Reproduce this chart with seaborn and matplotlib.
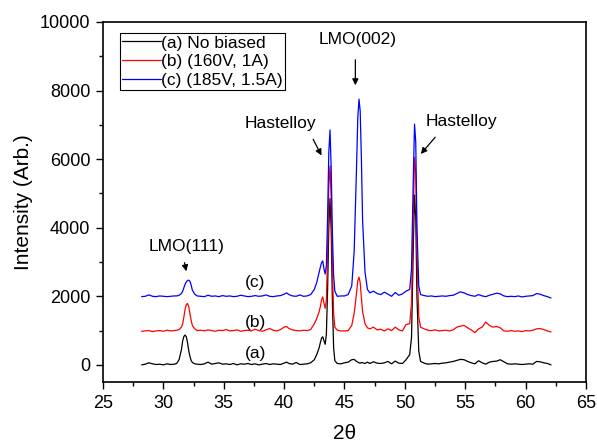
import matplotlib
matplotlib.use("Agg")
import matplotlib.pyplot as plt
import seaborn as sns
import pandas as pd
from matplotlib.ticker import MultipleLocator

# ---------------- data ----------------
two_theta = [
    28.2, 28.5, 28.8, 29.1, 29.4, 29.7, 30.0, 30.3, 30.6, 30.9,
    31.1, 31.3, 31.5, 31.6, 31.7, 31.8, 31.9, 32.0, 32.1, 32.2, 32.3, 32.4, 32.6, 32.8,
    33.1, 33.4, 33.7, 34.0, 34.3, 34.6, 34.9, 35.2, 35.5, 35.8, 36.1, 36.4, 36.7, 37.0,
    37.3, 37.6, 37.9, 38.2, 38.5, 38.8, 39.1, 39.4, 39.7, 40.0, 40.2, 40.4, 40.7, 41.0,
    41.3, 41.6, 41.9, 42.2, 42.5,
    42.7, 42.9, 43.0, 43.1, 43.2, 43.3, 43.4, 43.5, 43.6, 43.7, 43.8, 43.9, 44.0, 44.1,
    44.2, 44.4, 44.7,
    45.0, 45.3, 45.6, 45.8, 46.0, 46.1, 46.2, 46.3, 46.4, 46.5, 46.7, 46.9, 47.1,
    47.4, 47.7, 48.0, 48.3, 48.6, 48.9, 49.2, 49.5, 49.8, 50.1, 50.4,
    50.55, 50.7, 50.8, 50.9, 51.0, 51.15, 51.3,
    51.6, 51.9, 52.2, 52.5, 52.8, 53.1, 53.4, 53.7, 54.0, 54.3, 54.6, 54.9, 55.2, 55.5,
    55.8, 56.1, 56.4, 56.7, 57.0, 57.3, 57.6, 57.9, 58.2, 58.5, 58.8, 59.1, 59.4, 59.7,
    60.0, 60.3, 60.6, 60.9, 61.2, 61.5, 61.8, 62.1,
]

intensity_a = [
    0, 20, 60, 30, 10, 20, 0, 30, 10, 20,
    40, 150, 450, 700, 830, 870, 820, 650, 420, 250, 130, 70, 30, 20,
    10, 30, 80, 20, 40, 60, 20, 30, 10, 40, 0, 30, 20, 40,
    10, 30, 0, 20, 40, 10, 30, 20, 10, 50, 80, 40, 20, 70,
    10, 20, 30, 60, 150,
    300, 500, 650, 780, 820, 700, 600, 900, 2200, 4000, 4850, 3900, 1800, 500,
    120, 40, 30,
    60, 80, 150, 160, 100, 80, 60, 50, 70, 60, 40, 80, 40,
    90, 50, 40, 60, 100, 30, 110, 50, 40, 150, 300,
    800, 3500, 4950, 4300, 2000, 400, 100,
    50, 20, 30, 40, 30, 50, 60, 80, 100, 130, 160, 150, 100, 60,
    30, 120, 60, 20, 80, 100, 110, 150, 90, 30, 20, 30, 20, 10,
    20, 30, 20, 100, 90, 60, 40, 0,
]

intensity_b = [
    980, 990, 1000, 970, 990, 1000, 980, 1010, 990, 1000,
    1010, 1030, 1100, 1200, 1400, 1620, 1760, 1790, 1700, 1500, 1300, 1150, 1050, 1000,
    1010, 990, 1020, 1000, 980, 1010, 1000, 1030, 990, 1000, 1020, 980, 1000, 1010,
    990, 1040, 1000, 980, 1020, 1060, 1010, 990, 1030, 1100, 1120, 1060, 1020, 1000,
    990, 1010, 1000, 1030, 1200,
    1350, 1550, 1700, 1900, 1980, 1800, 1650, 1900, 3200, 5200, 5800, 4800, 2800, 1500,
    1100, 1010, 990,
    990, 1000, 1150, 1500, 2100, 2450, 2560, 2400, 1950, 1550, 1200, 1080, 1050,
    1100, 1020, 1040, 990, 1050, 1000, 1100, 1020, 990, 1180, 1200,
    1800, 4500, 6050, 5600, 3200, 1400, 1100,
    1050, 1010, 1000, 1020, 990, 1000, 1010, 990, 1020, 1100, 1130, 1150, 1080, 1020,
    940, 1050, 1100, 1250, 1150, 1100, 1120, 1080, 990, 980, 1000, 980, 990, 970,
    1000, 990, 1010, 1050, 1060, 1030, 990, 960,
]

intensity_c = [
    1990, 2000, 2040, 2000, 1990, 2010, 2000, 1990, 2000, 2010,
    2010, 2030, 2080, 2150, 2250, 2350, 2420, 2460, 2470, 2440, 2330, 2180, 2060, 2010,
    2000, 1990, 2030, 2000, 2010, 1990, 2020, 2000, 2010, 1990, 2000, 2030, 2010, 1990,
    2000, 2020, 2000, 2010, 2040, 2000, 1990, 2010, 2020, 2060, 2100, 2050, 2010, 2000,
    2040, 2000, 2010, 2050, 2200,
    2400, 2700, 2850, 2980, 3030, 2800, 2650, 2900, 4300, 6200, 6850, 5700, 3800, 2600,
    2150, 2000, 2010,
    2010, 2050, 2300, 3300, 5800, 7200, 7750, 7400, 6000, 4200, 2700, 2200, 2100,
    2150, 2080, 2050, 2120, 2060, 2000, 2110, 2030, 2070, 2150, 2200,
    2800, 5500, 7020, 6500, 4000, 2300, 2050,
    2020, 2000, 2010, 1990, 2000, 2010, 2000, 2020, 2030, 2080, 2130, 2100, 2050, 2020,
    2000, 2050, 2010, 1990, 2030, 2060, 2090, 2070, 2010, 1990, 2000, 1990, 2010, 1980,
    2000, 2010, 2020, 2080, 2060, 2020, 1990, 1950,
]

series_labels = ["(a) No biased", "(b) (160V, 1A)", "(c) (185V, 1.5A)"]
series_colors = ["black", "red", "blue"]

x_ticks = [25, 30, 35, 40, 45, 50, 55, 60, 65]
y_ticks = [0, 2000, 4000, 6000, 8000, 10000]

# ---------------- build table ----------------
frames = []
for lab, vals in zip(series_labels, [intensity_a, intensity_b, intensity_c]):
    frames.append(pd.DataFrame({"two_theta": two_theta, "intensity": vals, "sample": lab}))
df = pd.concat(frames, ignore_index=True)

# ---------------- style ----------------
sns.set_style("ticks")
plt.rcParams["font.family"] = ["Liberation Sans", "DejaVu Sans"]
plt.rcParams["text.color"] = "black"
plt.rcParams["axes.labelcolor"] = "black"
plt.rcParams["xtick.color"] = "black"
plt.rcParams["ytick.color"] = "black"
plt.rcParams["axes.edgecolor"] = "black"

fig = plt.figure(figsize=(5.97, 4.47), dpi=100)
ax = fig.add_axes([0.1725, 0.1454, 0.8091, 0.8054])

sns.lineplot(data=df, x="two_theta", y="intensity", hue="sample",
             hue_order=series_labels, palette=series_colors,
             sort=False, estimator=None, linewidth=0.9, ax=ax)

ax.set_xlim(25, 65)
ax.set_ylim(-500, 10000)
ax.set_xticks(x_ticks)
ax.set_yticks(y_ticks)
ax.xaxis.set_minor_locator(MultipleLocator(2.5))
ax.yaxis.set_minor_locator(MultipleLocator(1000))
ax.tick_params(axis="both", which="major", direction="out", length=5, width=1,
               labelsize=13, pad=4, top=False, right=False, colors="black")
ax.tick_params(axis="both", which="minor", direction="out", length=3, width=1,
               top=False, right=False, colors="black")
for sp in ax.spines.values():
    sp.set_visible(True)
    sp.set_linewidth(1.2)
    sp.set_color("black")

ax.set_xlabel("2θ", fontsize=15, labelpad=9)
ax.set_ylabel("Intensity (Arb.)", fontsize=15, labelpad=5)

leg = ax.legend(loc="upper left", bbox_to_anchor=(0.035, 0.97), fontsize=12.5,
                frameon=True, fancybox=False, edgecolor="black", framealpha=1,
                handlelength=2.2, handletextpad=0.0, labelspacing=0.2,
                borderpad=0.15, borderaxespad=0)
leg.get_frame().set_linewidth(0.8)
for line in leg.get_lines():
    line.set_linewidth(0.9)

# ---------------- annotations ----------------
afs = 12.5
arrow = dict(arrowstyle="-|>", color="black", lw=0.9, mutation_scale=9)
ax.text(31.9, 3440, "LMO(111)", fontsize=afs, ha="center", va="center")
ax.annotate("", xy=(31.95, 2650), xytext=(31.7, 3060), arrowprops=arrow)
ax.text(39.7, 7030, "Hastelloy", fontsize=afs, ha="center", va="center")
ax.annotate("", xy=(43.2, 6035), xytext=(42.3, 6650), arrowprops=arrow)
ax.text(54.7, 7085, "Hastelloy", fontsize=afs, ha="center", va="center")
ax.annotate("", xy=(51.17, 6090), xytext=(52.66, 6700), arrowprops=arrow)
ax.text(46.1, 9475, "LMO(002)", fontsize=afs, ha="center", va="center")
ax.annotate("", xy=(45.9, 8075), xytext=(45.9, 8980), arrowprops=arrow)

ax.text(37.6, 2390, "(c)", fontsize=afs, ha="center", va="center")
ax.text(37.6, 1250, "(b)", fontsize=afs, ha="center", va="center")
ax.text(37.6, 320, "(a)", fontsize=afs, ha="center", va="center")

fig.savefig("out.png", dpi=100)
